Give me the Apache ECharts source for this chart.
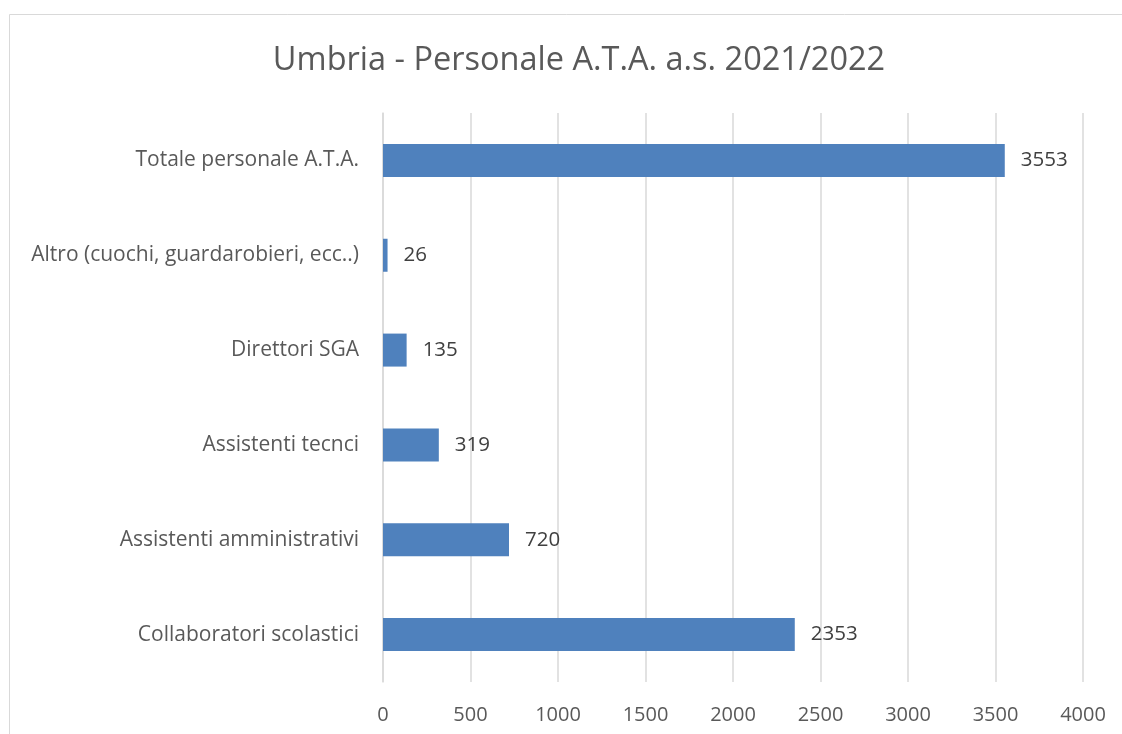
<!DOCTYPE html>
<html><head><meta charset="utf-8">
<script src="https://cdn.jsdelivr.net/npm/echarts@6/dist/echarts.min.js"></script>
<style>html,body{margin:0;padding:0;background:#fff}#c{width:1122px;height:734px}</style>
</head><body><div id="c"></div>
<script>
const categories = ["Collaboratori scolastici","Assistenti amministrativi","Assistenti tecnci","Direttori SGA","Altro (cuochi, guardarobieri, ecc..)","Totale personale A.T.A."];
const values = [2353, 720, 319, 135, 26, 3553];
const xTicks = [0, 500, 1000, 1500, 2000, 2500, 3000, 3500, 4000];
const titleText = "Umbria - Personale A.T.A. a.s. 2021/2022";

const chart = echarts.init(document.getElementById('c'), null, {renderer:'canvas'});
const FONT = "'Open Sans', sans-serif";
chart.setOption({
  backgroundColor:'#fff',
  animation:false,
  graphic:[{type:'rect', silent:true, shape:{x:9.5,y:14.5,width:1300,height:900}, style:{fill:'none', stroke:'#d9d9d9', lineWidth:1}}],
  title:{text:titleText, left:574, textAlign:'center', top:39, textStyle:{fontFamily:FONT, fontSize:32.5, fontWeight:'normal', color:'#595959'}},
  grid:{left:383, right:39, top:113, bottom:52, containLabel:false},
  xAxis:{type:'value', min:xTicks[0], max:xTicks[xTicks.length-1], interval:500,
    axisLine:{show:false}, axisTick:{show:false},
    splitLine:{lineStyle:{color:'#d9d9d9', width:1.5}},
    axisLabel:{fontFamily:FONT, fontSize:20, color:'#595959', margin:23, formatter:v=>String(v)}},
  yAxis:{type:'category', data:categories,
    axisLine:{show:true, lineStyle:{color:'#d9d9d9', width:1.5}}, axisTick:{show:false},
    axisLabel:{fontFamily:FONT, fontSize:21, color:'#595959', margin:24}},
  series:[{type:'bar', data:values, barWidth:33,
    itemStyle:{color:'#4f81bd'},
    label:{show:true, position:'right', distance:16, fontFamily:FONT, fontSize:20.5, color:'#404040'}}]
});
</script></body></html>
